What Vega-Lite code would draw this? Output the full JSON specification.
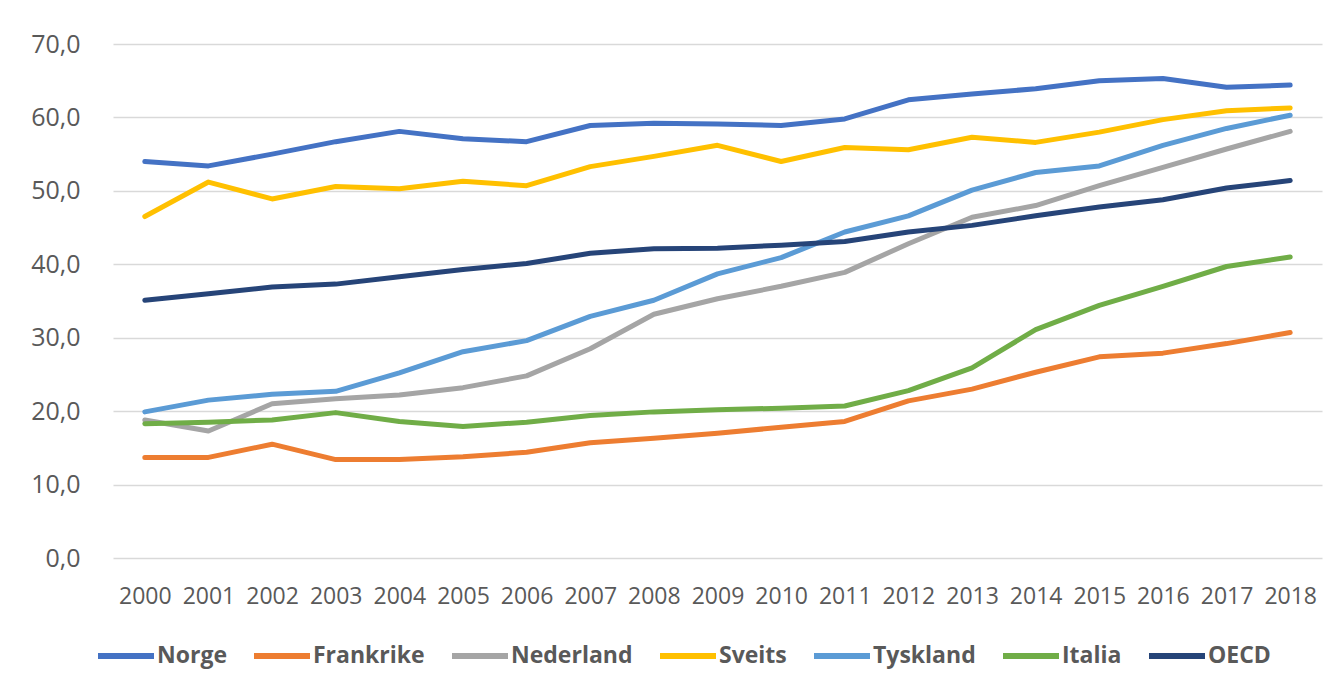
{
  "$schema": "https://vega.github.io/schema/vega-lite/v6.json",
  "width": 1209,
  "height": 514,
  "autosize": "none",
  "padding": {"left": 113, "top": 44, "right": 17, "bottom": 128},
  "background": "white",
  "data": {
    "values": [
      {"year": "2000", "country": "Norge", "value": 54.0},
      {"year": "2001", "country": "Norge", "value": 53.4},
      {"year": "2002", "country": "Norge", "value": 55.0},
      {"year": "2003", "country": "Norge", "value": 56.7},
      {"year": "2004", "country": "Norge", "value": 58.1},
      {"year": "2005", "country": "Norge", "value": 57.1},
      {"year": "2006", "country": "Norge", "value": 56.7},
      {"year": "2007", "country": "Norge", "value": 58.9},
      {"year": "2008", "country": "Norge", "value": 59.2},
      {"year": "2009", "country": "Norge", "value": 59.1},
      {"year": "2010", "country": "Norge", "value": 58.9},
      {"year": "2011", "country": "Norge", "value": 59.8},
      {"year": "2012", "country": "Norge", "value": 62.4},
      {"year": "2013", "country": "Norge", "value": 63.2},
      {"year": "2014", "country": "Norge", "value": 63.9},
      {"year": "2015", "country": "Norge", "value": 65.0},
      {"year": "2016", "country": "Norge", "value": 65.3},
      {"year": "2017", "country": "Norge", "value": 64.1},
      {"year": "2018", "country": "Norge", "value": 64.4},

      {"year": "2000", "country": "Frankrike", "value": 13.7},
      {"year": "2001", "country": "Frankrike", "value": 13.7},
      {"year": "2002", "country": "Frankrike", "value": 15.5},
      {"year": "2003", "country": "Frankrike", "value": 13.4},
      {"year": "2004", "country": "Frankrike", "value": 13.4},
      {"year": "2005", "country": "Frankrike", "value": 13.8},
      {"year": "2006", "country": "Frankrike", "value": 14.4},
      {"year": "2007", "country": "Frankrike", "value": 15.7},
      {"year": "2008", "country": "Frankrike", "value": 16.3},
      {"year": "2009", "country": "Frankrike", "value": 17.0},
      {"year": "2010", "country": "Frankrike", "value": 17.8},
      {"year": "2011", "country": "Frankrike", "value": 18.6},
      {"year": "2012", "country": "Frankrike", "value": 21.4},
      {"year": "2013", "country": "Frankrike", "value": 23.0},
      {"year": "2014", "country": "Frankrike", "value": 25.3},
      {"year": "2015", "country": "Frankrike", "value": 27.4},
      {"year": "2016", "country": "Frankrike", "value": 27.9},
      {"year": "2017", "country": "Frankrike", "value": 29.2},
      {"year": "2018", "country": "Frankrike", "value": 30.7},

      {"year": "2000", "country": "Nederland", "value": 18.8},
      {"year": "2001", "country": "Nederland", "value": 17.3},
      {"year": "2002", "country": "Nederland", "value": 21.0},
      {"year": "2003", "country": "Nederland", "value": 21.7},
      {"year": "2004", "country": "Nederland", "value": 22.2},
      {"year": "2005", "country": "Nederland", "value": 23.2},
      {"year": "2006", "country": "Nederland", "value": 24.8},
      {"year": "2007", "country": "Nederland", "value": 28.5},
      {"year": "2008", "country": "Nederland", "value": 33.2},
      {"year": "2009", "country": "Nederland", "value": 35.3},
      {"year": "2010", "country": "Nederland", "value": 37.0},
      {"year": "2011", "country": "Nederland", "value": 38.9},
      {"year": "2012", "country": "Nederland", "value": 42.8},
      {"year": "2013", "country": "Nederland", "value": 46.4},
      {"year": "2014", "country": "Nederland", "value": 48.0},
      {"year": "2015", "country": "Nederland", "value": 50.7},
      {"year": "2016", "country": "Nederland", "value": 53.2},
      {"year": "2017", "country": "Nederland", "value": 55.7},
      {"year": "2018", "country": "Nederland", "value": 58.1},

      {"year": "2000", "country": "Sveits", "value": 46.5},
      {"year": "2001", "country": "Sveits", "value": 51.2},
      {"year": "2002", "country": "Sveits", "value": 48.9},
      {"year": "2003", "country": "Sveits", "value": 50.6},
      {"year": "2004", "country": "Sveits", "value": 50.3},
      {"year": "2005", "country": "Sveits", "value": 51.3},
      {"year": "2006", "country": "Sveits", "value": 50.7},
      {"year": "2007", "country": "Sveits", "value": 53.3},
      {"year": "2008", "country": "Sveits", "value": 54.7},
      {"year": "2009", "country": "Sveits", "value": 56.2},
      {"year": "2010", "country": "Sveits", "value": 54.0},
      {"year": "2011", "country": "Sveits", "value": 55.9},
      {"year": "2012", "country": "Sveits", "value": 55.6},
      {"year": "2013", "country": "Sveits", "value": 57.3},
      {"year": "2014", "country": "Sveits", "value": 56.6},
      {"year": "2015", "country": "Sveits", "value": 58.0},
      {"year": "2016", "country": "Sveits", "value": 59.7},
      {"year": "2017", "country": "Sveits", "value": 60.9},
      {"year": "2018", "country": "Sveits", "value": 61.3},

      {"year": "2000", "country": "Tyskland", "value": 19.9},
      {"year": "2001", "country": "Tyskland", "value": 21.5},
      {"year": "2002", "country": "Tyskland", "value": 22.3},
      {"year": "2003", "country": "Tyskland", "value": 22.7},
      {"year": "2004", "country": "Tyskland", "value": 25.2},
      {"year": "2005", "country": "Tyskland", "value": 28.1},
      {"year": "2006", "country": "Tyskland", "value": 29.6},
      {"year": "2007", "country": "Tyskland", "value": 32.9},
      {"year": "2008", "country": "Tyskland", "value": 35.1},
      {"year": "2009", "country": "Tyskland", "value": 38.7},
      {"year": "2010", "country": "Tyskland", "value": 40.9},
      {"year": "2011", "country": "Tyskland", "value": 44.4},
      {"year": "2012", "country": "Tyskland", "value": 46.6},
      {"year": "2013", "country": "Tyskland", "value": 50.1},
      {"year": "2014", "country": "Tyskland", "value": 52.5},
      {"year": "2015", "country": "Tyskland", "value": 53.4},
      {"year": "2016", "country": "Tyskland", "value": 56.2},
      {"year": "2017", "country": "Tyskland", "value": 58.5},
      {"year": "2018", "country": "Tyskland", "value": 60.3},

      {"year": "2000", "country": "Italia", "value": 18.3},
      {"year": "2001", "country": "Italia", "value": 18.5},
      {"year": "2002", "country": "Italia", "value": 18.8},
      {"year": "2003", "country": "Italia", "value": 19.8},
      {"year": "2004", "country": "Italia", "value": 18.6},
      {"year": "2005", "country": "Italia", "value": 17.9},
      {"year": "2006", "country": "Italia", "value": 18.5},
      {"year": "2007", "country": "Italia", "value": 19.4},
      {"year": "2008", "country": "Italia", "value": 19.9},
      {"year": "2009", "country": "Italia", "value": 20.2},
      {"year": "2010", "country": "Italia", "value": 20.4},
      {"year": "2011", "country": "Italia", "value": 20.7},
      {"year": "2012", "country": "Italia", "value": 22.8},
      {"year": "2013", "country": "Italia", "value": 25.9},
      {"year": "2014", "country": "Italia", "value": 31.1},
      {"year": "2015", "country": "Italia", "value": 34.4},
      {"year": "2016", "country": "Italia", "value": 37.0},
      {"year": "2017", "country": "Italia", "value": 39.7},
      {"year": "2018", "country": "Italia", "value": 41.0},

      {"year": "2000", "country": "OECD", "value": 35.1},
      {"year": "2001", "country": "OECD", "value": 36.0},
      {"year": "2002", "country": "OECD", "value": 36.9},
      {"year": "2003", "country": "OECD", "value": 37.3},
      {"year": "2004", "country": "OECD", "value": 38.3},
      {"year": "2005", "country": "OECD", "value": 39.3},
      {"year": "2006", "country": "OECD", "value": 40.1},
      {"year": "2007", "country": "OECD", "value": 41.5},
      {"year": "2008", "country": "OECD", "value": 42.1},
      {"year": "2009", "country": "OECD", "value": 42.2},
      {"year": "2010", "country": "OECD", "value": 42.6},
      {"year": "2011", "country": "OECD", "value": 43.1},
      {"year": "2012", "country": "OECD", "value": 44.4},
      {"year": "2013", "country": "OECD", "value": 45.3},
      {"year": "2014", "country": "OECD", "value": 46.6},
      {"year": "2015", "country": "OECD", "value": 47.8},
      {"year": "2016", "country": "OECD", "value": 48.8},
      {"year": "2017", "country": "OECD", "value": 50.4},
      {"year": "2018", "country": "OECD", "value": 51.4}
    ]
  },
  "mark": {"type": "line", "strokeWidth": 5, "strokeCap": "round", "strokeJoin": "round"},
  "encoding": {
    "x": {
      "field": "year",
      "type": "ordinal",
      "scale": {"type": "point", "padding": 0.5},
      "axis": {
        "title": null,
        "labelAngle": 0,
        "labelFont": "Open Sans",
        "labelFontSize": 23,
        "labelColor": "#595959",
        "labelPadding": 27,
        "labelOverlap": false,
        "ticks": false,
        "domain": false,
        "grid": false
      }
    },
    "y": {
      "field": "value",
      "type": "quantitative",
      "scale": {"domain": [0, 70], "nice": false},
      "axis": {
        "title": null,
        "values": [0, 10, 20, 30, 40, 50, 60, 70],
        "labelExpr": "replace(format(datum.value, '.1f'), '.', ',')",
        "labelFont": "Open Sans",
        "labelFontSize": 25,
        "labelColor": "#595959",
        "labelPadding": 33,
        "tickSize": 0,
        "ticks": false,
        "domain": false,
        "grid": true,
        "gridColor": "#d9d9d9",
        "gridWidth": 1.5
      }
    },
    "color": {
      "field": "country",
      "type": "nominal",
      "sort": ["Norge", "Frankrike", "Nederland", "Sveits", "Tyskland", "Italia", "OECD"],
      "scale": {
        "domain": ["Norge", "Frankrike", "Nederland", "Sveits", "Tyskland", "Italia", "OECD"],
        "range": ["#4472C4", "#ED7D31", "#A5A5A5", "#FFC000", "#5B9BD5", "#70AD47", "#264478"]
      },
      "legend": {
        "title": null,
        "orient": "none",
        "direction": "horizontal",
        "columns": 7,
        "legendX": -18,
        "legendY": 581,
        "symbolType": "stroke",
        "symbolSize": 3136,
        "symbolStrokeWidth": 6,
        "labelFont": "Open Sans",
        "labelFontSize": 23,
        "labelFontWeight": "bold",
        "labelColor": "#595959",
        "labelOffset": 0,
        "columnPadding": 15,
        "labelLimit": 300
      }
    }
  },
  "config": {
    "view": {"stroke": null}
  }
}
